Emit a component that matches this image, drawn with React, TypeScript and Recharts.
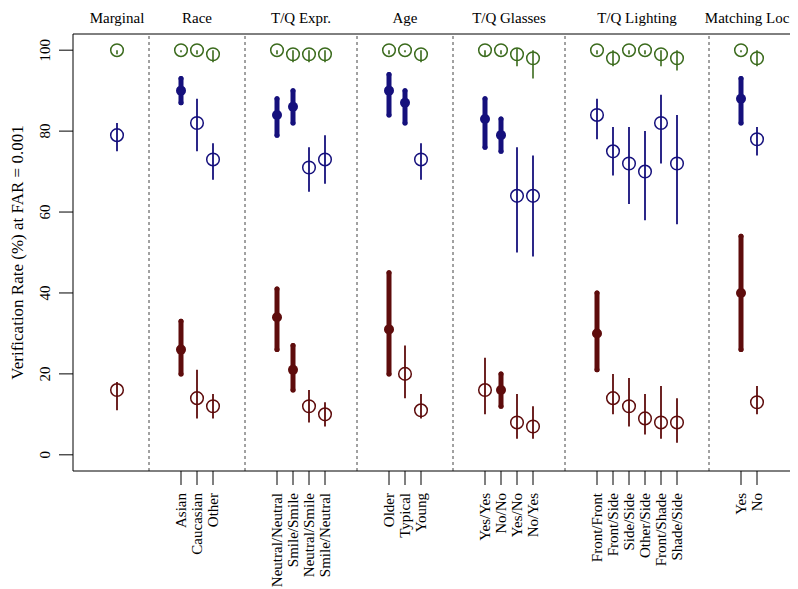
import React from "react";
import { ScatterChart, Scatter, XAxis, YAxis, ErrorBar, ReferenceLine } from "recharts";

// ---------- data ----------
const groupNames = ["Marginal", "Race", "T/Q Expr.", "Age", "T/Q Glasses", "T/Q Lighting", "Matching Loc."];
const levelLabels: string[][] = [
  [""],
  ["Asian", "Caucasian", "Other"],
  ["Neutral/Neutral", "Smile/Smile", "Neutral/Smile", "Smile/Neutral"],
  ["Older", "Typical", "Young"],
  ["Yes/Yes", "No/No", "Yes/No", "No/Yes"],
  ["Front/Front", "Front/Side", "Side/Side", "Other/Side", "Front/Shade", "Shade/Side"],
  ["Yes", "No"],
];

const greenRate = [100, 100, 100, 99, 100, 99, 99, 99, 100, 100, 99, 100, 100, 99, 98, 100, 98, 100, 100, 99, 98, 100, 98];
const greenLow = [99, 99.5, 99, 97, 99, 97, 97, 97, 99, 99.5, 97, 98.5, 99, 96, 93, 99, 96, 99, 99, 96, 95, 99.5, 96];
const greenHigh = [100, 100, 100, 100, 100, 100, 100, 100, 100, 100, 100, 100, 100, 100.5, 100, 100, 100, 100, 100, 100, 100, 100, 100];

const blueRate = [79, 90, 82, 73, 84, 86, 71, 73, 90, 87, 73, 83, 79, 64, 64, 84, 75, 72, 70, 82, 72, 88, 78];
const blueLow = [75, 87, 75, 68, 79, 82, 65, 67, 84, 82, 68, 76, 75, 50, 49, 78, 69, 62, 58, 72, 57, 82, 74];
const blueHigh = [82, 93, 88, 77, 88, 90, 76, 79, 94, 90, 77, 88, 83, 76, 74, 88, 81, 81, 80, 89, 84, 93, 81];
const blueSignificant = [0, 1, 0, 0, 1, 1, 0, 0, 1, 1, 0, 1, 1, 0, 0, 0, 0, 0, 0, 0, 0, 1, 0];

const redRate = [16, 26, 14, 12, 34, 21, 12, 10, 31, 20, 11, 16, 16, 8, 7, 30, 14, 12, 9, 8, 8, 40, 13];
const redLow = [11, 20, 9, 9, 26, 16, 8, 7, 20, 14, 9, 10, 12, 4, 4, 21, 10, 7, 5, 4, 3, 26, 10];
const redHigh = [18, 33, 21, 15, 41, 27, 16, 13, 45, 27, 15, 24, 20, 15, 12, 40, 20, 19, 15, 17, 14, 54, 17];
const redSignificant = [0, 1, 0, 0, 1, 1, 0, 0, 1, 0, 0, 0, 1, 0, 0, 1, 0, 0, 0, 0, 0, 1, 0];

const yTicks = [0, 20, 40, 60, 80, 100];

// ---------- layout (derived) ----------
const GROUP_GAP = 4;
const positions: number[] = [];
const labels: string[] = [];
const groupStart: number[] = [];
const groupEnd: number[] = [];
{
  let p = 0;
  levelLabels.forEach((lv, g) => {
    if (g > 0) p += GROUP_GAP;
    groupStart.push(p);
    lv.forEach((lab, i) => {
      positions.push(p);
      labels.push(lab);
      if (i < lv.length - 1) p += 1;
    });
    groupEnd.push(p);
  });
}
const separators = groupStart.slice(1).map((s, i) => (groupEnd[i] + s) / 2);
const groupCenters = groupStart.map((s, i) => (s + groupEnd[i]) / 2);
const xTicks = positions.filter((_, i) => labels[i] !== "");
const labelAt = (v: number) => {
  const i = positions.indexOf(v);
  return i >= 0 ? labels[i] : "";
};

type Pt = { x: number; y: number; err: [number, number] };
const build = (rate: number[], low: number[], high: number[], flags: number[] | null, want: number): Pt[] =>
  rate
    .map((v, i) => ({ x: positions[i], y: v, err: [v - low[i], high[i] - v] as [number, number], f: flags ? flags[i] : 0 }))
    .filter((d) => d.f === want)
    .map(({ x, y, err }) => ({ x, y, err }));

const greenOpen = build(greenRate, greenLow, greenHigh, null, 0);
const blueFilled = build(blueRate, blueLow, blueHigh, blueSignificant, 1);
const blueOpen = build(blueRate, blueLow, blueHigh, blueSignificant, 0);
const redFilled = build(redRate, redLow, redHigh, redSignificant, 1);
const redOpen = build(redRate, redLow, redHigh, redSignificant, 0);

// ---------- styles ----------
const FONT = "'Liberation Serif', 'DejaVu Serif', serif";
const GREEN = "#3b6b1d";
const BLUE = "#15107c";
const RED = "#5e0c0c";

const openShape = (color: string) => (props: any) =>
  <circle cx={props.cx} cy={props.cy} r={6.3} fill="none" stroke={color} strokeWidth={1.5} />;
const filledShape = (color: string) => (props: any) =>
  <circle cx={props.cx} cy={props.cy} r={5} fill={color} stroke="none" />;

const XTick = (props: any) => {
  const { x, y, payload } = props;
  const tx = x + 5;
  const ty = y + 6;
  return (
    <text x={tx} y={ty} transform={`rotate(-90, ${tx}, ${ty})`} textAnchor="end" fontSize={15} fontFamily={FONT} fill="#000">
      {labelAt(payload.value)}
    </text>
  );
};

const YTick = (props: any) => {
  const { x, y, payload } = props;
  const tx = x - 7;
  return (
    <text x={tx} y={y} transform={`rotate(-90, ${tx}, ${y})`} textAnchor="middle" fontSize={15} fontFamily={FONT} fill="#000">
      {payload.value}
    </text>
  );
};

const YLabel = (props: any) => {
  const vb = props.viewBox || {};
  const cy = vb.y !== undefined && vb.height !== undefined ? vb.y + vb.height / 2 : 245;
  const tx = 15;
  return (
    <text x={tx} y={cy} transform={`rotate(-90, ${tx}, ${cy})`} textAnchor="middle" fontSize={17} fontFamily={FONT} fill="#000">
      Verification Rate (%) at FAR = 0.001
    </text>
  );
};

export default function App() {
  return (
    <ScatterChart width={790} height={580} margin={{ top: 26, right: 0, bottom: 0, left: 0 }} style={{ fontFamily: FONT }}>
      <XAxis
        type="number"
        dataKey="x"
        domain={[-2.75, 42.5625]}
        allowDataOverflow
        ticks={xTicks}
        interval={0}
        tick={<XTick />}
        tickSize={14}
        height={117}
        axisLine={{ stroke: "#000", strokeWidth: 1 }}
        tickLine={{ stroke: "#000", strokeWidth: 1 }}
      />
      <YAxis
        type="number"
        dataKey="y"
        domain={[-4, 104]}
        allowDataOverflow
        ticks={yTicks}
        interval={0}
        tick={<YTick />}
        tickSize={14}
        width={65}
        axisLine={{ stroke: "#000", strokeWidth: 1 }}
        tickLine={{ stroke: "#000", strokeWidth: 1 }}
        label={<YLabel />}
      />
      <ReferenceLine y={104} stroke="#000" strokeWidth={1} />
      {separators.map((s) => (
        <ReferenceLine key={"sep" + s} x={s} stroke="#444" strokeWidth={1} strokeDasharray="3 3" />
      ))}
      {groupCenters.map((c, i) => (
        <ReferenceLine
          key={"grp" + i}
          x={c}
          stroke="none"
          label={{ value: groupNames[i], position: "top", offset: 11, fill: "#000", fontSize: 15, fontFamily: FONT }}
        />
      ))}
      <Scatter data={greenOpen} shape={openShape(GREEN)} isAnimationActive={false}>
        <ErrorBar dataKey="err" direction="y" width={0} stroke={GREEN} strokeWidth={1.6} isAnimationActive={false} />
      </Scatter>
      <Scatter data={blueOpen} shape={openShape(BLUE)} isAnimationActive={false}>
        <ErrorBar dataKey="err" direction="y" width={0} stroke={BLUE} strokeWidth={1.8} isAnimationActive={false} />
      </Scatter>
      <Scatter data={blueFilled} shape={filledShape(BLUE)} isAnimationActive={false}>
        <ErrorBar dataKey="err" direction="y" width={0} stroke={BLUE} strokeWidth={5} strokeLinecap="round" isAnimationActive={false} />
      </Scatter>
      <Scatter data={redOpen} shape={openShape(RED)} isAnimationActive={false}>
        <ErrorBar dataKey="err" direction="y" width={0} stroke={RED} strokeWidth={1.8} isAnimationActive={false} />
      </Scatter>
      <Scatter data={redFilled} shape={filledShape(RED)} isAnimationActive={false}>
        <ErrorBar dataKey="err" direction="y" width={0} stroke={RED} strokeWidth={5} strokeLinecap="round" isAnimationActive={false} />
      </Scatter>
    </ScatterChart>
  );
}
